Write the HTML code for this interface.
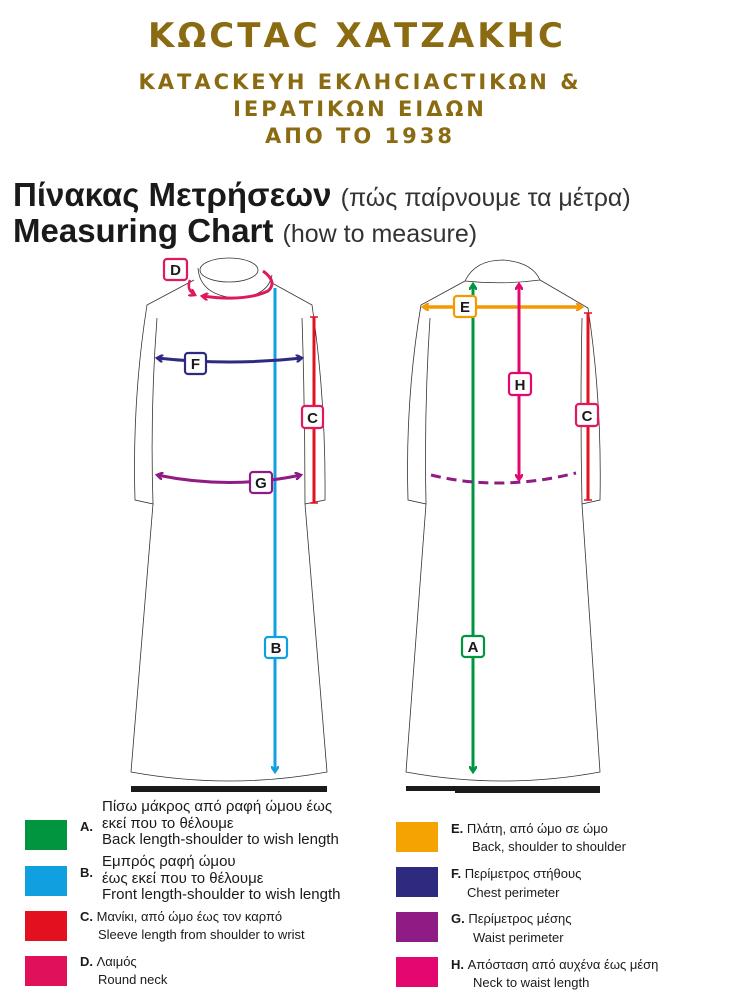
<!DOCTYPE html>
<html><head><meta charset="utf-8"><style>
body{margin:0;background:#fff;width:740px;height:999px;overflow:hidden;font-family:"Liberation Sans","DejaVu Sans",sans-serif}
</style></head><body>
<svg width="740" height="999" viewBox="0 0 740 999" xmlns="http://www.w3.org/2000/svg" font-family="Liberation Sans, DejaVu Sans, sans-serif">
<defs>
<marker id="ah" markerWidth="8" markerHeight="8" refX="6" refY="4" orient="auto-start-reverse" markerUnits="userSpaceOnUse"><path d="M0,0 L6,4 L0,8" fill="none" stroke="context-stroke" stroke-width="2.5"/></marker>
</defs>
<g fill="#8b6b12" font-family="DejaVu Sans, Liberation Sans, sans-serif" text-anchor="middle">
<text x="357" y="47" font-size="34" font-weight="bold" letter-spacing="3">ΚΩCΤΑC ΧΑΤΖΑΚΗC</text>
<text x="360" y="89" font-size="21" font-weight="bold" letter-spacing="3">ΚΑΤΑCΚΕΥΗ ΕΚΛΗCΙΑCΤΙΚΩΝ &amp;</text>
<text x="360" y="116" font-size="21" font-weight="bold" letter-spacing="3">ΙΕΡΑΤΙΚΩΝ ΕΙΔΩΝ</text>
<text x="360" y="143" font-size="21" font-weight="bold" letter-spacing="3">ΑΠΟ ΤΟ 1938</text>
</g>
<text x="13" y="206" font-size="33" font-weight="bold" fill="#1a1a1a">Πίνακας Μετρήσεων <tspan font-weight="normal" font-size="25" fill="#333" textLength="290" lengthAdjust="spacingAndGlyphs">(πώς παίρνουμε τα μέτρα)</tspan></text>
<text x="13" y="242" font-size="33" font-weight="bold" fill="#1a1a1a">Measuring Chart <tspan font-weight="normal" font-size="25" fill="#333">(how to measure)</tspan></text>

<g fill="none" stroke="#333" stroke-width="0.8">
<ellipse cx="229" cy="270" rx="29" ry="12"/>
<path d="M198,268 Q200,295 235,298 Q268,297 272,275"/>
<path d="M194,280 L147,305 Q132,400 135,500 L153,504 L131,772 Q230,790 327,772 L305,504 L325,500 Q326,400 312,305 L272,283"/>
<path d="M157,318 Q150,410 153,504"/>
<path d="M302,318 Q305,410 305,504"/>
</g>
<rect x="131" y="786" width="196" height="6" fill="#1a1a1a"/>
<g fill="none" stroke="#333" stroke-width="0.8">
<path d="M465,281 Q475,260 503,260 Q532,262 540,280 Q503,285 465,281"/>
<path d="M465,281 L421,305 Q405,400 408,500 L426,504 L406,772 Q503,790 600,772 L582,504 L600,500 Q602,400 588,308 L540,280"/>
<path d="M430,318 Q424,410 426,504"/>
<path d="M582,318 Q580,410 582,504"/>
</g>
<rect x="406" y="786" width="194" height="5" fill="#1a1a1a"/>
<rect x="455" y="786" width="145" height="7" fill="#1a1a1a"/>

<line x1="275" y1="288" x2="275" y2="772" stroke="#10a0e0" stroke-width="3" marker-end="url(#ah)"/>
<line x1="314" y1="317" x2="314" y2="503" stroke="#e3101f" stroke-width="3"/>
<path d="M310,317h8M310,503h8" stroke="#e3101f" stroke-width="1.5"/>
<path d="M157,358 Q230,366 302,358" fill="none" stroke="#2e2a80" stroke-width="3" marker-start="url(#ah)" marker-end="url(#ah)"/>
<path d="M157,475 Q230,490 301,475" fill="none" stroke="#8f1c85" stroke-width="3" marker-start="url(#ah)" marker-end="url(#ah)"/>
<path d="M263,271 Q278,282 268,291 Q245,302 202,296" fill="none" stroke="#e0185c" stroke-width="3" marker-end="url(#ah)"/>
<path d="M190,280 Q186,290 195,295" fill="none" stroke="#e0185c" stroke-width="2.5" marker-end="url(#ah)"/>
<line x1="473" y1="284" x2="473" y2="772" stroke="#00963f" stroke-width="3" marker-start="url(#ah)" marker-end="url(#ah)"/>
<line x1="423" y1="307" x2="582" y2="307" stroke="#f29a00" stroke-width="3.5" marker-start="url(#ah)" marker-end="url(#ah)"/>
<line x1="519" y1="284" x2="519" y2="480" stroke="#e3076f" stroke-width="3" marker-start="url(#ah)" marker-end="url(#ah)"/>
<line x1="588" y1="313" x2="588" y2="500" stroke="#e3101f" stroke-width="3"/>
<path d="M584,313h8M584,500h8" stroke="#e3101f" stroke-width="1.5"/>
<path d="M431,475 Q500,492 576,473" fill="none" stroke="#8f1c85" stroke-width="3" stroke-dasharray="10,6"/>

<g font-size="15" font-weight="bold" fill="#1a1a1a" text-anchor="middle" stroke-width="2.2">
<rect x="164" y="259" width="23" height="21" rx="3" fill="#fff" stroke="#e0185c"/><text x="175.5" y="275">D</text>
<rect x="185" y="353" width="21" height="21" rx="3" fill="#fff" stroke="#2e2a80"/><text x="195.5" y="369">F</text>
<rect x="302" y="406" width="21" height="22" rx="3" fill="#fff" stroke="#e0185c"/><text x="312.5" y="423">C</text>
<rect x="250" y="472" width="22" height="21" rx="3" fill="#fff" stroke="#8f1c85"/><text x="261" y="488">G</text>
<rect x="265" y="637" width="22" height="21" rx="3" fill="#fff" stroke="#10a0e0"/><text x="276" y="653">B</text>
<rect x="462" y="636" width="22" height="21" rx="3" fill="#fff" stroke="#00963f"/><text x="473" y="652">A</text>
<rect x="454" y="296" width="22" height="21" rx="3" fill="#fff" stroke="#f29a00"/><text x="465" y="312">E</text>
<rect x="509" y="373" width="22" height="22" rx="3" fill="#fff" stroke="#e3076f"/><text x="520" y="390">H</text>
<rect x="576" y="404" width="22" height="22" rx="3" fill="#fff" stroke="#e0185c"/><text x="587" y="421">C</text>
</g>

<rect x="25" y="820" width="42" height="30" fill="#00963f"/>
<rect x="25" y="866" width="42" height="30" fill="#10a0e0"/>
<rect x="25" y="911" width="42" height="30" fill="#e3101f"/>
<rect x="25" y="956" width="42" height="30" fill="#e0105a"/>
<rect x="396" y="822" width="42" height="30" fill="#f4a300"/>
<rect x="396" y="867" width="42" height="30" fill="#2e2a80"/>
<rect x="396" y="912" width="42" height="30" fill="#8f1c85"/>
<rect x="396" y="957" width="42" height="30" fill="#e3076f"/>
<g fill="#1a1a1a">
<text x="80" y="831" font-size="13" font-weight="bold">A.</text>
<text x="102" y="811" font-size="15">Πίσω μάκρος από ραφή ώμου έως</text>
<text x="102" y="828" font-size="15">εκεί που το θέλουμε</text>
<text x="102" y="844" font-size="15">Back length-shoulder to wish length</text>
<text x="80" y="877" font-size="13" font-weight="bold">B.</text>
<text x="102" y="866" font-size="15">Εμπρός ραφή ώμου</text>
<text x="102" y="883" font-size="15">έως εκεί που το θέλουμε</text>
<text x="102" y="899" font-size="15">Front length-shoulder to wish length</text>
<text x="80" y="921" font-size="13"><tspan font-weight="bold">C.</tspan> Μανίκι, από ώμο έως τον καρπό</text>
<text x="98" y="939" font-size="13">Sleeve length from shoulder to wrist</text>
<text x="80" y="966" font-size="13"><tspan font-weight="bold">D.</tspan> Λαιμός</text>
<text x="98" y="984" font-size="13">Round neck</text>
<text x="451" y="833" font-size="13"><tspan font-weight="bold">E.</tspan> Πλάτη, από ώμο σε ώμο</text>
<text x="472" y="851" font-size="13">Back, shoulder to shoulder</text>
<text x="451" y="878" font-size="13"><tspan font-weight="bold">F.</tspan> Περίμετρος στήθους</text>
<text x="467" y="897" font-size="13">Chest perimeter</text>
<text x="451" y="923" font-size="13"><tspan font-weight="bold">G.</tspan> Περίμετρος μέσης</text>
<text x="473" y="942" font-size="13">Waist perimeter</text>
<text x="451" y="969" font-size="13"><tspan font-weight="bold">H.</tspan> Απόσταση από αυχένα έως μέση</text>
<text x="473" y="987" font-size="13">Neck to waist length</text>
</g>
</svg>
</body></html>
